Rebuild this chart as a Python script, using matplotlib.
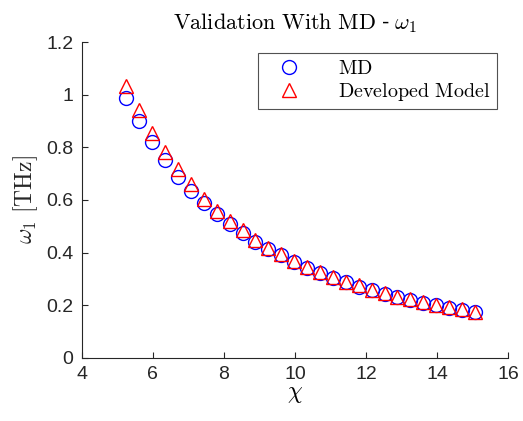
import matplotlib
matplotlib.use("Agg")
import matplotlib.pyplot as plt

plt.rcParams['mathtext.fontset'] = 'cm'
plt.rcParams['font.family'] = ['Liberation Sans', 'DejaVu Sans']

chi = [5.26, 5.62, 5.99, 6.35, 6.71, 7.08, 7.44, 7.80, 8.16, 8.53,
       8.89, 9.25, 9.62, 9.98, 10.34, 10.70, 11.07, 11.43, 11.79, 12.16,
       12.52, 12.88, 13.24, 13.61, 13.97, 14.33, 14.70, 15.06]

omega_md = [0.989, 0.900, 0.822, 0.752, 0.689, 0.634, 0.587, 0.547, 0.509, 0.474,
            0.441, 0.414, 0.391, 0.364, 0.342, 0.321, 0.304, 0.287, 0.271, 0.256,
            0.243, 0.231, 0.220, 0.209, 0.200, 0.191, 0.183, 0.176]

omega_model = [1.035, 0.943, 0.856, 0.782, 0.716, 0.660, 0.605, 0.559, 0.520, 0.484,
               0.448, 0.419, 0.394, 0.369, 0.347, 0.325, 0.308, 0.290, 0.275, 0.258,
               0.246, 0.233, 0.222, 0.211, 0.202, 0.193, 0.184, 0.175]

x_ticks = [4, 6, 8, 10, 12, 14, 16]
y_ticks = [0, 0.2, 0.4, 0.6, 0.8, 1.0, 1.2]
y_tick_labels = ['0', '0.2', '0.4', '0.6', '0.8', '1', '1.2']

fig = plt.figure(figsize=(5.23, 4.21), dpi=100)
ax = fig.add_axes([0.156, 0.150, 0.816, 0.750])

ax.plot(chi, omega_md, linestyle='none', marker='o', markersize=10,
        markerfacecolor='none', markeredgecolor='#0000ff', markeredgewidth=1.0, label='MD')
ax.plot(chi, omega_model, linestyle='none', marker='^', markersize=10,
        markerfacecolor='none', markeredgecolor='#ff0000', markeredgewidth=1.0,
        label='Developed Model')

ax.set_xlim(4, 16)
ax.set_ylim(0, 1.2)
ax.set_xticks(x_ticks)
ax.set_yticks(y_ticks)
ax.set_yticklabels(y_tick_labels)

for side in ['top', 'right']:
    ax.spines[side].set_visible(False)
for side in ['left', 'bottom']:
    ax.spines[side].set_color('#262626')
    ax.spines[side].set_linewidth(0.8)
ax.tick_params(direction='in', length=4, width=0.8, colors='#262626',
               labelsize=14, pad=6)

ax.set_title(r'$\mathrm{Validation\ With\ MD}$ - $\omega_1$', fontsize=16, pad=9)
ax.set_xlabel(r'$\chi$', fontsize=17, labelpad=0)
ax.set_ylabel(r'$\omega_1\ \mathrm{[THz]}$', fontsize=17, labelpad=4, color='#262626')

leg = ax.legend(loc='upper right', bbox_to_anchor=(0.9735, 0.965), frameon=True,
                fancybox=False, edgecolor='#262626',
                prop={'size': 14.5}, handlelength=2.5, handletextpad=1.2,
                borderpad=0.3, labelspacing=0.15, borderaxespad=0)
leg.get_frame().set_linewidth(0.8)
for t in leg.get_texts():
    t.set_text(r'$\mathrm{' + t.get_text().replace(' ', r'\ ') + '}$')

fig.savefig('out.png', dpi=100)
